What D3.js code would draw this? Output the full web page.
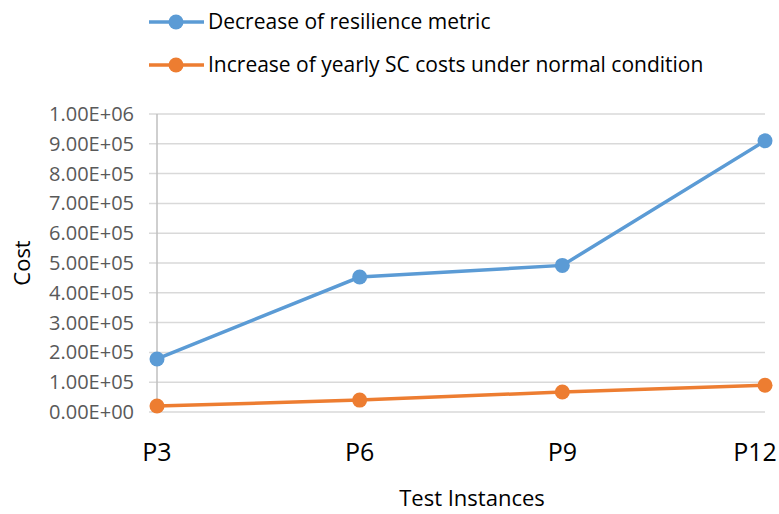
<!DOCTYPE html>
<html>
<head>
<meta charset="utf-8">
<script src="https://cdn.jsdelivr.net/npm/d3@7"></script>
<style>
  body { margin: 0; background: #fff; }
  svg { font-family: "Open Sans", sans-serif; }
  .ylab { fill: #595959; font-size: 20px; }
  .xlab { fill: #000; font-size: 25px; }
  .legtext { fill: #000; font-size: 21px; }
</style>
</head>
<body>
<svg width="779" height="514"></svg>
<script>
// chart data
const instances = ["P3", "P6", "P9", "P12"]
const resilienceDecrease = [178000, 453000, 492000, 910000]
const yearlyCostIncrease = [20000, 40000, 67000, 90000]
const yTicks = d3.range(0, 1000001, 100000)
const seriesNames = ["Decrease of resilience metric", "Increase of yearly SC costs under normal condition"]
const colors = ["#5B9BD5", "#ED7D31"]

let svg = d3.select("svg")

let x = d3.scalePoint()
    .domain(instances)
    .range([157, 765])
let y = d3.scaleLinear()
    .domain([0, 1000000])
    .range([412, 114])

// gridlines (they run through the tick marks on the left)
svg.append("g").selectAll("line").data(yTicks).enter().append("line")
    .attr("x1", 149)
    .attr("x2", 765)
    .attr("y1", d => y(d))
    .attr("y2", d => y(d))
    .attr("stroke", "#d9d9d9")
    .attr("stroke-width", 1.5)

// vertical axis line
svg.append("line")
    .attr("x1", x("P3")).attr("x2", x("P3"))
    .attr("y1", y(1000000)).attr("y2", y(0))
    .attr("stroke", "#bfbfbf")
    .attr("stroke-width", 1.5)

// y tick labels, excel style 1.00E+05
svg.append("g").selectAll("text").data(yTicks).enter().append("text")
    .attr("class", "ylab")
    .attr("x", 134)
    .attr("y", d => y(d))
    .attr("dy", "0.35em")
    .attr("text-anchor", "end")
    .text(d => d3.format(".2e")(d).replace("e", "E").replace(/E([+-])(\d)$/, "E$10$2"))

// x tick labels
svg.append("g").selectAll("text").data(instances).enter().append("text")
    .attr("class", "xlab")
    .attr("x", d => Math.min(x(d), 755))
    .attr("y", 461)
    .attr("text-anchor", "middle")
    .text(d => d)

// axis titles
svg.append("text")
    .attr("x", 472)
    .attr("y", 506)
    .attr("text-anchor", "middle")
    .style("font-size", "22px")
    .text("Test Instances")
svg.append("text")
    .attr("transform", "translate(30,263) rotate(-90)")
    .attr("text-anchor", "middle")
    .style("font-size", "22px")
    .text("Cost")

// series lines and markers
let series = [resilienceDecrease, yearlyCostIncrease]
let line = d3.line()
    .x((d, i) => x(instances[i]))
    .y(d => y(d))
series.forEach((vals, s) => {
    svg.append("path")
        .datum(vals)
        .attr("d", line)
        .attr("fill", "none")
        .attr("stroke", colors[s])
        .attr("stroke-width", 3.5)
    svg.append("g").selectAll("circle").data(vals).enter().append("circle")
        .attr("cx", (d, i) => x(instances[i]))
        .attr("cy", d => y(d))
        .attr("r", 7.5)
        .attr("fill", colors[s])
})

// legend
let legend = svg.append("g").selectAll("g").data(seriesNames).enter().append("g")
    .attr("transform", (d, i) => `translate(0,${22 + i * 43})`)
legend.append("line")
    .attr("x1", 149).attr("x2", 204)
    .attr("stroke", (d, i) => colors[i])
    .attr("stroke-width", 3.5)
legend.append("circle")
    .attr("cx", 176)
    .attr("r", 7.5)
    .attr("fill", (d, i) => colors[i])
legend.append("text")
    .attr("class", "legtext")
    .attr("x", 208)
    .attr("dy", "0.35em")
    .text(d => d)
</script>
</body>
</html>
